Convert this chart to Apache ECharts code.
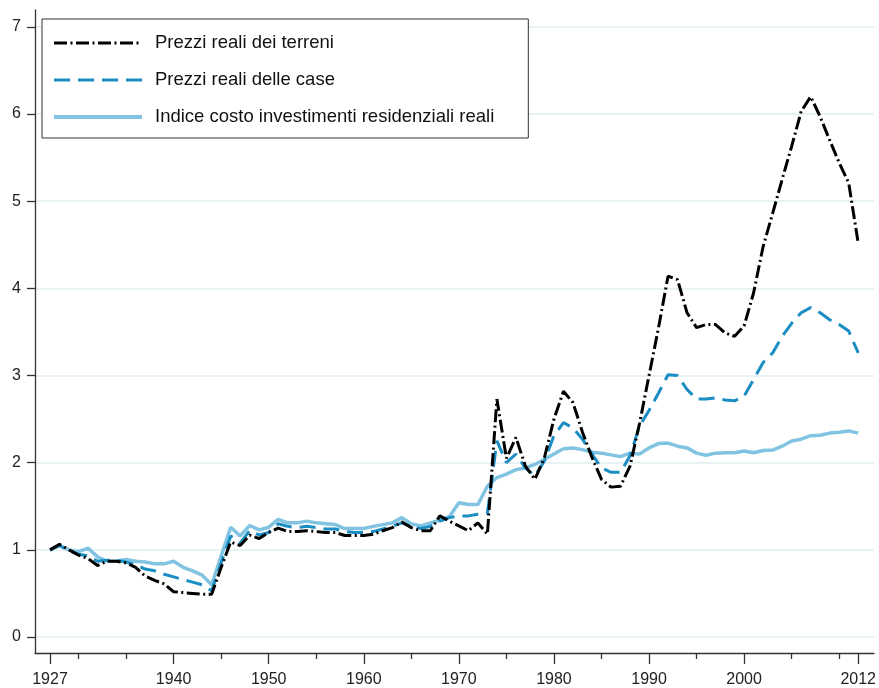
<!DOCTYPE html>
<html>
<head>
<meta charset="utf-8">
<script src="https://cdn.jsdelivr.net/npm/echarts@6/dist/echarts.min.js"></script>
<style>
html,body{margin:0;padding:0;background:#fff;}
#chart{width:879px;height:688px;}
</style>
</head>
<body>
<div id="chart"></div>
<script>
const years = [];
for (let y = 1927; y <= 2012; y++) years.push(y);

const seriesNames = [
  "Prezzi reali dei terreni",
  "Prezzi reali delle case",
  "Indice costo investimenti residenziali reali"
];

const terreni = [
  1.00, 1.065, 1.00, 0.94, 0.90, 0.82, 0.87, 0.87, 0.85, 0.80,
  0.70, 0.65, 0.61, 0.52, 0.51, 0.50, 0.49, 0.49, 0.80, 1.09,
  1.05, 1.17, 1.13, 1.20, 1.25, 1.21, 1.21, 1.22, 1.21, 1.20,
  1.20, 1.165, 1.165, 1.165, 1.18, 1.22, 1.255, 1.32, 1.255, 1.22,
  1.22, 1.39, 1.33, 1.275, 1.22, 1.31, 1.18, 2.73, 2.05, 2.29,
  1.96, 1.81, 2.06, 2.50, 2.82, 2.69, 2.35, 2.06, 1.81, 1.72,
  1.73, 1.96, 2.45, 3.00, 3.55, 4.14, 4.10, 3.72, 3.55, 3.585,
  3.585, 3.49, 3.45, 3.57, 3.95, 4.48, 4.86, 5.25, 5.63, 6.03,
  6.20, 5.97, 5.70, 5.44, 5.21, 4.52
];

const case_ = [
  1.00, 1.05, 0.99, 0.95, 0.93, 0.87, 0.88, 0.88, 0.86, 0.83,
  0.78, 0.76, 0.72, 0.69, 0.66, 0.63, 0.60, 0.53, 0.85, 1.16,
  1.08, 1.22, 1.17, 1.20, 1.30, 1.27, 1.255, 1.27, 1.255, 1.24,
  1.24, 1.21, 1.20, 1.20, 1.21, 1.24, 1.27, 1.31, 1.27, 1.245,
  1.27, 1.33, 1.37, 1.39, 1.39, 1.41, 1.42, 2.25, 2.00, 2.10,
  1.94, 1.85, 2.02, 2.31, 2.46, 2.40, 2.27, 2.10, 1.94, 1.89,
  1.89, 2.08, 2.42, 2.60, 2.80, 3.01, 3.00, 2.84, 2.73, 2.73,
  2.745, 2.72, 2.71, 2.765, 2.955, 3.15, 3.26, 3.45, 3.60, 3.72,
  3.78, 3.72, 3.64, 3.585, 3.51, 3.26
];

const indice = [
  1.00, 1.05, 1.00, 0.98, 1.02, 0.92, 0.87, 0.87, 0.89, 0.87,
  0.86, 0.84, 0.84, 0.87, 0.80, 0.76, 0.71, 0.60, 0.93, 1.26,
  1.16, 1.28, 1.23, 1.26, 1.35, 1.31, 1.31, 1.33, 1.31, 1.30,
  1.29, 1.245, 1.245, 1.245, 1.27, 1.29, 1.31, 1.37, 1.30, 1.275,
  1.31, 1.34, 1.38, 1.54, 1.52, 1.52, 1.73, 1.83, 1.87, 1.92,
  1.94, 1.98, 2.04, 2.10, 2.16, 2.17, 2.15, 2.12, 2.11, 2.09,
  2.07, 2.11, 2.10, 2.17, 2.22, 2.225, 2.19, 2.17, 2.11, 2.085,
  2.11, 2.115, 2.115, 2.135, 2.115, 2.14, 2.145, 2.19, 2.25, 2.27,
  2.31, 2.315, 2.34, 2.35, 2.365, 2.34
];

const xLabelValues = [1927, 1940, 1950, 1960, 1970, 1980, 1990, 2000, 2012];
const xMinorTicks = [1930, 1935, 1945, 1955, 1965, 1975, 1985, 1995, 2005, 2010];
const yTickValues = [0, 1, 2, 3, 4, 5, 6, 7];

const pairs = arr => years.map((y, i) => [y, arr[i]]);

const colBlack = '#000000';
const colBlue = '#1a8dc2';
const colLight = '#80c4e2';

const hiddenSymbol = {color: 'rgba(0,0,0,0)', borderColor: 'rgba(0,0,0,0)', borderWidth: 0, opacity: 0};

const chart = echarts.init(document.getElementById('chart'), null, {renderer: 'canvas'});
const xMin = 1925.42, xMax = 2013.66;
chart.setOption({
  animation: false,
  backgroundColor: '#ffffff',
  grid: {left: 35, right: 4, top: 10, bottom: 34, containLabel: false},
  xAxis: [
    {
      type: 'value', min: xMin, max: xMax, position: 'bottom',
      axisLine: {show: true, onZero: false, lineStyle: {color: '#333', width: 1.3}},
      axisTick: {show: true, length: 11, customValues: xLabelValues, lineStyle: {color: '#333', width: 1.3}},
      axisLabel: {show: true, customValues: xLabelValues, formatter: v => String(v),
        fontFamily: 'Liberation Sans, Arial, sans-serif', fontSize: 16, color: '#222', margin: 19},
      splitLine: {show: false}
    },
    {
      type: 'value', min: xMin, max: xMax, position: 'bottom',
      axisLine: {show: false, onZero: false},
      axisTick: {show: true, length: 6, customValues: xMinorTicks, lineStyle: {color: '#333', width: 1.3}},
      axisLabel: {show: false},
      splitLine: {show: false}
    }
  ],
  yAxis: {
    type: 'value', min: -0.183, max: 7.194,
    axisLine: {show: true, onZero: false, lineStyle: {color: '#333', width: 1.3}},
    axisTick: {show: true, length: 8, customValues: yTickValues, lineStyle: {color: '#333', width: 1.3}},
    axisLabel: {show: true, customValues: yTickValues, formatter: v => String(v),
      fontFamily: 'Liberation Sans, Arial, sans-serif', fontSize: 16, color: '#222', margin: 14},
    splitLine: {show: true, lineStyle: {color: '#e8f1f4', width: 2}}
  },
  legend: {
    left: 42, top: 19, orient: 'vertical',
    data: [
      {name: seriesNames[0], lineStyle: {width: 3}, itemStyle: hiddenSymbol},
      {name: seriesNames[1], lineStyle: {width: 3}, itemStyle: hiddenSymbol},
      {name: seriesNames[2], lineStyle: {width: 4}, itemStyle: hiddenSymbol}
    ],
    itemWidth: 88, itemHeight: 14, itemGap: 17,
    padding: [14, 34, 11, 10],
    borderColor: '#333', borderWidth: 1, backgroundColor: '#fff',
    textStyle: {fontFamily: 'Liberation Sans, Arial, sans-serif', fontSize: 18.5, color: '#111',
      lineHeight: 20, padding: [0, 0, 0, 8]}
  },
  series: [
    {
      name: seriesNames[2], type: 'line', data: pairs(indice), symbol: 'none', showSymbol: false,
      lineStyle: {color: colLight, width: 3.5, type: 'solid'}, itemStyle: {color: colLight}, z: 2
    },
    {
      name: seriesNames[1], type: 'line', data: pairs(case_), symbol: 'none', showSymbol: false,
      lineStyle: {color: colBlue, width: 3, type: [16, 8]}, itemStyle: {color: colBlue}, z: 3
    },
    {
      name: seriesNames[0], type: 'line', data: pairs(terreni), symbol: 'none', showSymbol: false,
      lineStyle: {color: colBlack, width: 3, type: [13, 3.5, 2, 3.5]}, itemStyle: {color: colBlack}, z: 4
    }
  ]
});
</script>
</body>
</html>
